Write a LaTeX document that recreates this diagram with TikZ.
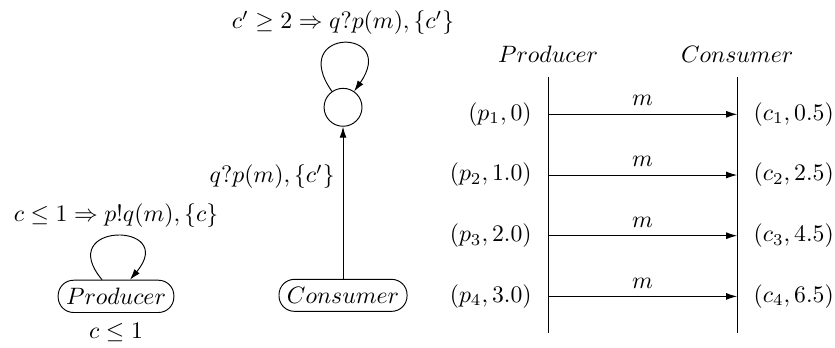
\documentclass[tikz,border=0pt]{standalone}
\usepackage{tikz}
\usepackage{amsmath}
\usetikzlibrary{arrows.meta,positioning}

\begin{document}
\begin{tikzpicture}[
  node distance=8mm and 8mm,
  state/.style={draw, rounded corners=6.5pt, align=center},
  loc/.style={draw, circle, minimum size=16pt, inner sep=0pt},
  flow/.style={-{Latex[length=4.6pt, width=2.9pt]}},
  lifeline/.style={draw}
]
\useasboundingbox (0,0) rectangle (12.38,5.15);

% timed automata
\node[state] (producer) at (1.72,0.756) {$Producer$};
\node[below=1pt of producer] (pinv) {$c \leq 1$};
\node[state] (consumer) at (5.086,0.771) {$Consumer$};
\node[loc] (recv) at (5.086,3.559) {};

\draw[flow] (producer) to[loop, out=130, in=50, looseness=7] node[above] {$c \leq 1 \Rightarrow p!q(m), \{c\}$} (producer);
\draw[flow] (recv) to[loop, out=125, in=55, looseness=9] node[above] {$c' \geq 2 \Rightarrow q?p(m), \{c'\}$} (recv);
\draw[flow] (consumer) -- node[pos=0.67, left] {$q?p(m), \{c'\}$} (recv);

% message sequence chart
\coordinate (ptop) at (8.126,4.004);
\coordinate (pbot) at (8.126,0.208);
\coordinate (ctop) at (10.929,4.004);
\coordinate (cbot) at (10.929,0.208);
\node[above=2.6pt of ptop] (ptitle) {$Producer$};
\node[above=2.6pt of ctop] (ctitle) {$Consumer$};
\draw[lifeline] (ptop) -- (pbot);
\draw[lifeline] (ctop) -- (cbot);

\foreach \i/\ps/\cs in {1/0/0.5, 2/1.0/2.5, 3/2.0/4.5, 4/3.0/6.5} {
  \coordinate (snd\i) at (8.126, {3.455-0.9*(\i-1)});
  \coordinate (rcv\i) at (10.929, {3.455-0.9*(\i-1)});
  \draw[flow] (snd\i) -- node[above] {$m$} (rcv\i);
  \node[left=3.4pt of snd\i] (plbl\i) {$(p_\i, \ps)$};
  \node[right=3.4pt of rcv\i] (clbl\i) {$(c_\i, \cs)$};
}
\end{tikzpicture}
\end{document}
